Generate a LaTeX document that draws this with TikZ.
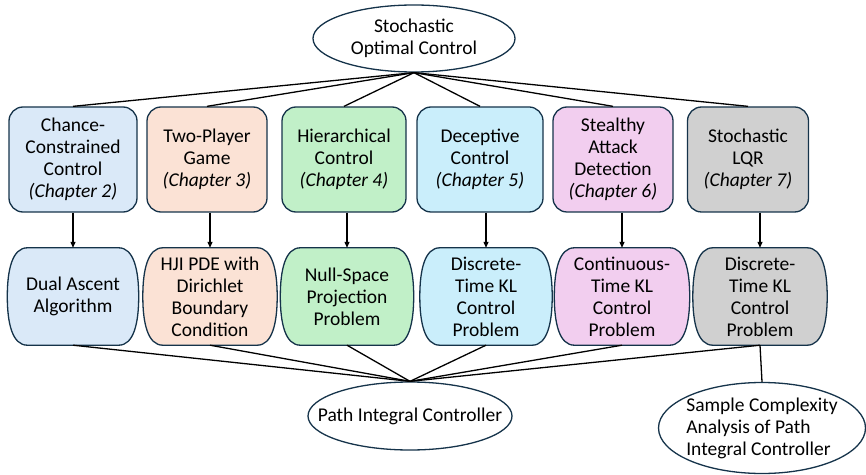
\documentclass[tikz,border=0pt]{standalone}
\usepackage{fontspec}
\setmainfont{Carlito}
\usetikzlibrary{shapes.geometric, arrows.meta, positioning, calc, backgrounds}

\definecolor{lineNavy}{HTML}{15334A}
\definecolor{fillBlue}{HTML}{DAE9F8}
\definecolor{fillPeach}{HTML}{FBE2D5}
\definecolor{fillGreen}{HTML}{C1F0C8}
\definecolor{fillCyan}{HTML}{CAEEFB}
\definecolor{fillPink}{HTML}{F2CEEF}
\definecolor{fillGray}{HTML}{D0D0D0}

\begin{document}
\begin{tikzpicture}[
    x=1pt, y=1pt,
    font=\fontsize{19.5}{22}\selectfont,
    topic/.style={ellipse, draw=lineNavy, line width=1.3pt, align=center, inner sep=0pt},
    chapter/.style={rectangle, rounded corners=14pt, draw=lineNavy, line width=1.3pt, align=center, minimum height=105pt, inner sep=0pt},
    method/.style={rectangle, align=center, minimum height=97pt, inner sep=0pt},
    outline/.style={draw=lineNavy, line width=1.3pt},
    link/.style={line width=1.3pt},
    arrow/.style={-{Triangle[length=6pt, width=5pt]}, line width=1.2pt}
]
    \useasboundingbox (0,0) rectangle (866,474);

    \node[topic, minimum width=202pt, minimum height=67pt] (soc) at (414,435.5) {Stochastic\\Optimal Control};

    % one box per chapter
    \node[chapter, fill=fillBlue, minimum width=128pt] (chance) at (73,314.5) {Chance-\\Constrained\\Control\\\textit{(Chapter 2)}};
    \node[chapter, fill=fillPeach, minimum width=120pt] (game) at (207,314.5) {Two-Player\\Game\\\textit{(Chapter 3)}};
    \node[chapter, fill=fillGreen, minimum width=124pt] (hier) at (344,314.5) {Hierarchical\\Control\\\textit{(Chapter 4)}};
    \node[chapter, fill=fillCyan, minimum width=126pt] (decep) at (480,314.5) {Deceptive\\Control\\\textit{(Chapter 5)}};
    \node[chapter, fill=fillPink, minimum width=120pt] (stealth) at (613,314.5) {Stealthy\\Attack\\Detection\\\textit{(Chapter 6)}};
    \node[chapter, fill=fillGray, minimum width=121pt] (lqr) at (748,314.5) {Stochastic\\LQR\\\textit{(Chapter 7)}};

    % the problem each chapter reduces to
    \node[method, minimum width=131pt] (dual) at (73,177.5) {Dual Ascent\\Algorithm};
    \node[method, minimum width=134pt] (hji) at (210,177.5) {HJI PDE with\\Dirichlet\\Boundary\\Condition};
    \node[method, minimum width=133pt] (nullsp) at (347,177.5) {Null-Space\\Projection\\Problem};
    \node[method, minimum width=132pt] (dtkl) at (486,177.5) {Discrete-\\Time KL\\Control\\Problem};
    \node[method, minimum width=135pt] (ctkl) at (622,177.5) {Continuous-\\Time KL\\Control\\Problem};
    \node[method, minimum width=134pt] (dtklb) at (760,177.5) {Discrete-\\Time KL\\Control\\Problem};

    % flat top and bottom, bulged sides
    \begin{scope}[on background layer]
        \foreach \n/\c in {dual/fillBlue, hji/fillPeach, nullsp/fillGreen, dtkl/fillCyan, ctkl/fillPink, dtklb/fillGray}
            \draw[outline, fill=\c]
                ($(\n.north west)+(20,0)$) -- ($(\n.north east)+(-20,0)$)
                .. controls ($(\n.north east)+(-5,0)$) and ($(\n.north east)+(0,-22)$) .. (\n.east)
                .. controls ($(\n.south east)+(0,22)$) and ($(\n.south east)+(-5,0)$) .. ($(\n.south east)+(-20,0)$)
                -- ($(\n.south west)+(20,0)$)
                .. controls ($(\n.south west)+(5,0)$) and ($(\n.south west)+(0,22)$) .. (\n.west)
                .. controls ($(\n.north west)+(0,-22)$) and ($(\n.north west)+(5,0)$) .. cycle;
    \end{scope}

    \node[topic, minimum width=204pt, minimum height=68pt, inner xsep=-40pt] (pic) at (410,58) {Path Integral Controller};
    \node[topic, minimum width=207pt, minimum height=91pt, inner sep=-10pt, align=left] (sample) at (762,46) {Sample Complexity\\Analysis of Path\\Integral Controller};

    \draw[link] (soc.south) -- (chance.north);
    \draw[link] (soc.south) -- (game.north);
    \draw[link] (soc.south) -- (hier.north);
    \draw[link] (soc.south) -- (decep.north);
    \draw[link] (soc.south) -- (stealth.north);
    \draw[link] (soc.south) -- (lqr.north);

    \draw[arrow] (chance.south -| dual.north) -- (dual.north);
    \draw[arrow] (game.south -| hji.north) -- (hji.north);
    \draw[arrow] (hier.south -| nullsp.north) -- (nullsp.north);
    \draw[arrow] (decep.south -| dtkl.north) -- (dtkl.north);
    \draw[arrow] (stealth.south -| ctkl.north) -- (ctkl.north);
    \draw[arrow] (lqr.south -| dtklb.north) -- (dtklb.north);

    \draw[link] (dual.south) -- (pic.north);
    \draw[link] (hji.south) -- (pic.north);
    \draw[link] (nullsp.south) -- (pic.north);
    \draw[link] (dtkl.south) -- (pic.north);
    \draw[link] (ctkl.south) -- (pic.north);
    \draw[link] (dtklb.south) -- (pic.north);
    \draw[link] (dtklb.south) -- (sample.north);
\end{tikzpicture}
\end{document}
